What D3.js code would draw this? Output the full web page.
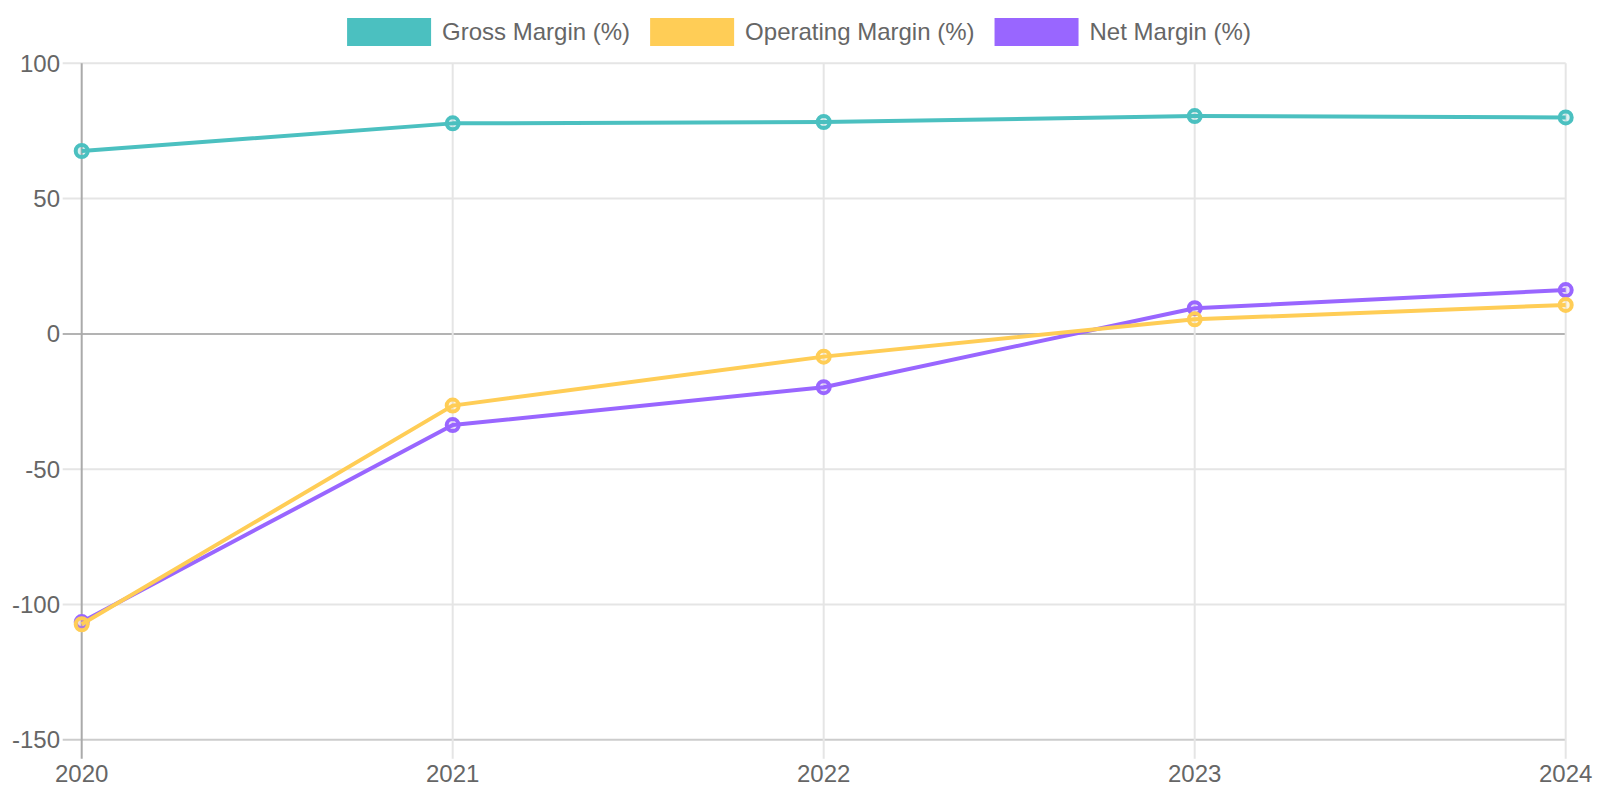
<!DOCTYPE html>
<html><head><meta charset="utf-8">
<script src="https://cdn.jsdelivr.net/npm/d3@7/dist/d3.min.js"></script>
<style>html,body{margin:0;padding:0;background:#fff;}svg{display:block;font-family:"Liberation Sans",Arial,Helvetica,sans-serif;}</style>
</head><body><svg id="c" width="1600" height="800"></svg>
<script>
const years = ["2020","2021","2022","2023","2024"];
const grossMargin = [67.6, 77.8, 78.3, 80.5, 80.0];
const operatingMargin = [-107.3, -26.5, -8.4, 5.4, 10.7];
const netMargin = [-106.5, -33.7, -19.7, 9.5, 16.2];
const yTicks = [-150, -100, -50, 0, 50, 100];
const seriesNames = ["Gross Margin (%)", "Operating Margin (%)", "Net Margin (%)"];
const seriesColors = ["#4BC0C0", "#FFCD56", "#9966FF"];

const series = [grossMargin, operatingMargin, netMargin].map((v,i)=>({name:seriesNames[i], color:seriesColors[i], values:v}));

const svg = d3.select("#c");
const L = 81.7, R = 1565.7, T = 63.3, B = 739.8;
const x = d3.scalePoint().domain(years).range([L, R]).padding(0);
const y = d3.scaleLinear().domain([-150, 100]).range([B, T]);
const tickLen = 19;

// horizontal grid
const g = svg.append("g");
yTicks.forEach(t => {
  const yy = y(t);
  let col = "#e5e5e5";
  if (t === 0) col = "#b3b3b3";
  if (t === -150) col = "#cccccc";
  g.append("line").attr("x1", L - tickLen).attr("x2", R).attr("y1", yy).attr("y2", yy)
    .attr("stroke", col).attr("stroke-width", 2);
});
// vertical grid
years.forEach((yr, i) => {
  const xx = x(yr);
  g.append("line").attr("x1", xx).attr("x2", xx).attr("y1", T).attr("y2", B + tickLen)
    .attr("stroke", i === 0 ? "#aaaaaa" : "#e5e5e5").attr("stroke-width", 2);
});

// y labels
svg.append("g").selectAll("text").data(yTicks).join("text")
  .attr("x", 60).attr("y", d => y(d)).attr("dy", "0.35em")
  .attr("text-anchor", "end").attr("font-size", 24).attr("fill", "#666").text(d => d);
// x labels
svg.append("g").selectAll("text").data(years).join("text")
  .attr("x", d => x(d)).attr("y", 781.5)
  .attr("text-anchor", "middle").attr("font-size", 24).attr("fill", "#666").text(d => d);

// lines (reverse order so first dataset on top)
const line = d3.line().x((d,i) => x(years[i])).y(d => y(d));
series.slice().reverse().forEach(s => {
  const sg = svg.append("g");
  sg.append("path").attr("d", line(s.values)).attr("fill", "none")
    .attr("stroke", s.color).attr("stroke-width", 4).attr("stroke-linejoin", "round");
  const c = d3.color(s.color); c.opacity = 0.2;
  sg.selectAll("circle").data(s.values).join("circle")
    .attr("cx", (d,i) => x(years[i])).attr("cy", d => y(d)).attr("r", 6)
    .attr("fill", c.formatRgb()).attr("stroke", s.color).attr("stroke-width", 4);
});

// legend
const lg = svg.append("g");
const boxW = 84, boxH = 28, gapText = 11, gapItem = 20;
let items = [];
series.forEach(s => {
  const it = lg.append("g");
  it.append("rect").attr("x", 0).attr("y", 18).attr("width", boxW).attr("height", boxH).attr("fill", s.color);
  const t = it.append("text").attr("x", boxW + gapText).attr("y", 32).attr("dy", "0.35em")
    .attr("font-size", 24).attr("fill", "#666").text(s.name);
  const w = boxW + gapText + t.node().getComputedTextLength();
  items.push({it, w});
});
const total = d3.sum(items, d => d.w) + gapItem * (items.length - 1);
let sx = 799 - total / 2;
items.forEach(d => { d.it.attr("transform", `translate(${sx},0)`); sx += d.w + gapItem; });
</script></body></html>
